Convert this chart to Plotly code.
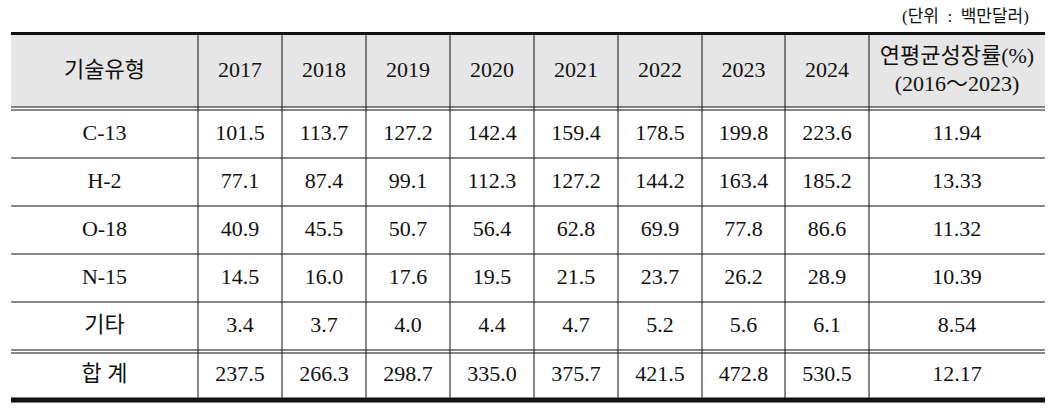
import plotly.graph_objects as go

# ---- data ----
years = ["2017", "2018", "2019", "2020", "2021", "2022", "2023", "2024"]
tech_types = ["C-13", "H-2", "O-18", "N-15", "기타", "합 계"]
c13 = [101.5, 113.7, 127.2, 142.4, 159.4, 178.5, 199.8, 223.6]
h2 = [77.1, 87.4, 99.1, 112.3, 127.2, 144.2, 163.4, 185.2]
o18 = [40.9, 45.5, 50.7, 56.4, 62.8, 69.9, 77.8, 86.6]
n15 = [14.5, 16.0, 17.6, 19.5, 21.5, 23.7, 26.2, 28.9]
etc = [3.4, 3.7, 4.0, 4.4, 4.7, 5.2, 5.6, 6.1]
total = [237.5, 266.3, 298.7, 335.0, 375.7, 421.5, 472.8, 530.5]
cagr = [11.94, 13.33, 11.32, 10.39, 8.54, 12.17]
header_first = "기술유형"
header_last = "연평균성장률(%)<br>(2016～2023)"
unit_note = "(단위\u00a0\u00a0:\u00a0\u00a0백만달러)"

rows = [c13, h2, o18, n15, etc, total]

# ---- layout (pixel-like grid units) ----
W, H = 1051, 408
left = 11
col_widths = [187, 84, 84, 84, 84, 84, 84, 83, 84, 176]
top = 34
header_h = 73
gap = 3
row_h = [48, 48, 48, 48, 48]
total_h = 45

font_family = "Liberation Serif, Noto Sans CJK KR, serif"
txt_color = "#111111"
line_color = "#111111"

# column boundaries / centers
xb = [left]
for w in col_widths:
    xb.append(xb[-1] + w)
xc = [(xb[i] + xb[i + 1]) / 2 for i in range(len(col_widths))]
right = xb[-1]

# row boundaries
hdr_bot = top + header_h
yb = [hdr_bot + gap]
for h in row_h:
    yb.append(yb[-1] + h)
tot_top = yb[-1] + gap
bottom = tot_top + total_h
row_tops = yb[:-1] + [tot_top]
row_bots = yb[1:] + [bottom]
yc = [(a + b) / 2 for a, b in zip(row_tops, row_bots)]
hdr_c = (top + hdr_bot) / 2 + 1

fig = go.Figure()

# header text
fig.add_trace(go.Scatter(
    x=xc, y=[hdr_c] * len(xc), mode="text",
    text=[header_first] + years + [header_last],
    textposition="middle center",
    textfont=dict(family=font_family, size=22, color=txt_color),
    hoverinfo="skip", showlegend=False,
))

# body rows
for r, name in enumerate(tech_types):
    vals = [name] + [f"{v:.1f}" for v in rows[r]] + [f"{cagr[r]:.2f}"]
    fig.add_trace(go.Scatter(
        x=xc, y=[yc[r]] * len(xc), mode="text", text=vals,
        textposition="middle center",
        textfont=dict(family=font_family, size=22, color=txt_color),
        hoverinfo="skip", showlegend=False,
    ))

shapes = []
# header fill
shapes.append(dict(type="rect", x0=left, x1=right, y0=top, y1=hdr_bot,
                   fillcolor="#e6e6e6", line=dict(width=0), layer="below"))

def hl(y, w):
    return dict(type="line", x0=left, x1=right, y0=y, y1=y,
                line=dict(color=line_color, width=w), layer="above")

shapes.append(hl(top - 0.5, 3))
shapes.append(hl(hdr_bot, 1))
shapes.append(hl(hdr_bot + gap, 1))
for y in yb[1:-1]:
    shapes.append(hl(y, 1))
shapes.append(hl(yb[-1], 1))
shapes.append(hl(tot_top, 1))
shapes.append(hl(bottom + 2, 5))
# vertical lines (internal only)
for x in xb[1:-1]:
    shapes.append(dict(type="line", x0=x, x1=x, y0=top, y1=bottom,
                       line=dict(color=line_color, width=1), layer="above"))

fig.update_layout(
    width=W, height=H,
    margin=dict(l=0, r=0, t=0, b=0),
    paper_bgcolor="white", plot_bgcolor="white",
    xaxis=dict(range=[0, W], visible=False, fixedrange=True),
    yaxis=dict(range=[H, 0], visible=False, fixedrange=True),
    shapes=shapes,
    annotations=[dict(
        text=unit_note, x=1031, y=16, xanchor="right", yanchor="middle",
        showarrow=False,
        font=dict(family=font_family, size=17, color=txt_color),
    )],
)

fig.write_html("out.html", config={"displayModeBar": False},
               post_script="document.body.style.margin='0';")
